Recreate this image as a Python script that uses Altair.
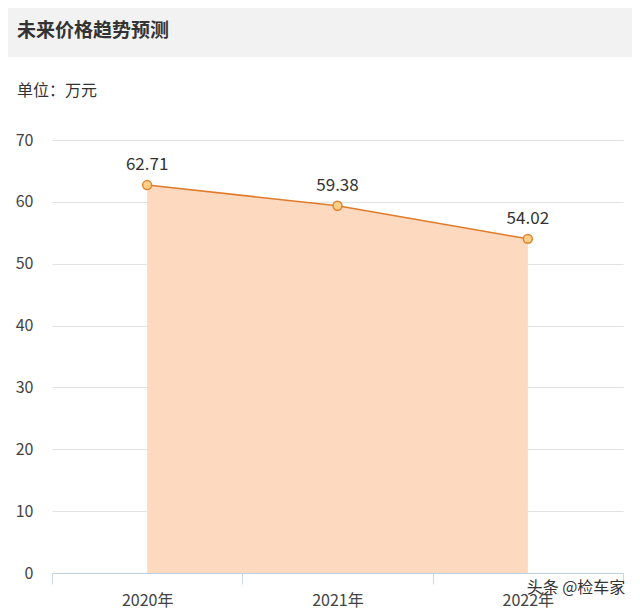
import altair as alt
import pandas as pd

years = ["2020年", "2021年", "2022年"]
prices = [62.71, 59.38, 54.02]
labels = ["62.71", "59.38", "54.02"]
y_ticks = [0, 10, 20, 30, 40, 50, 60, 70]

title_text = "未来价格趋势预测"
unit_text = "单位：万元"
watermark = "头条 @检车家"

FONT = "Noto Sans CJK SC"

df = pd.DataFrame({"year": years, "price": prices, "label": labels})
one = pd.DataFrame({"a": [0]})

x_enc = alt.X("year:N", sort=years,
              scale=alt.Scale(paddingInner=0, paddingOuter=0),
              axis=alt.Axis(title=None, labelAngle=0, domainColor="#bcd0e2",
                            tickColor="#cfd6de", tickBand="extent", tickSize=11,
                            labelPadding=8, labelFontSize=16, labelColor="#444444",
                            labelFont=FONT))
y_enc = alt.Y("price:Q", scale=alt.Scale(domain=[0, 70], nice=False),
              axis=alt.Axis(title=None, values=y_ticks, domain=False, ticks=False,
                            gridColor="#e2e2e6", labelPadding=19, labelFontSize=16,
                            labelColor="#444444", labelFont=FONT))

header = alt.Chart(one).mark_rect(color="#f2f2f3").encode(
    x=alt.value(-60), x2=alt.value(640), y=alt.value(-140), y2=alt.value(-83))
title = alt.Chart(one).mark_text(text=title_text, align="left", baseline="middle",
                                 fontSize=19, fontWeight="bold", font=FONT,
                                 color="#333333").encode(
    x=alt.value(-35), y=alt.value(-109))
unit = alt.Chart(one).mark_text(text=unit_text, align="left", baseline="middle",
                                fontSize=16, font=FONT, color="#333333").encode(
    x=alt.value(-35), y=alt.value(-49))

base = alt.Chart(df)
area = base.mark_area(color="#fdd9bf", opacity=1).encode(x=x_enc, y=y_enc)
line = base.mark_line(color="#e07b29", strokeWidth=1.5).encode(x=x_enc, y=y_enc)
pts = base.mark_point(filled=True, fill="#fcd089", stroke="#df8530", strokeWidth=1.5,
                      size=80, opacity=1).encode(x=x_enc, y=y_enc)
txt = base.mark_text(dy=-20, fontSize=17, font=FONT, color="#333333").encode(
    x=x_enc, y=y_enc, text="label:N")
wm = alt.Chart(one).mark_text(text=watermark, align="center", baseline="middle",
                              fontSize=16, font=FONT, color="#333333").encode(
    x=alt.value(524), y=alt.value(448))

chart = alt.layer(header, title, unit, area, line, pts, txt, wm).properties(
    width=571, height=433,
    autosize=alt.AutoSizeParams(type="none"),
    padding={"left": 44, "top": 132, "right": 9, "bottom": 36},
    background="#ffffff",
).configure_view(stroke=None)

chart.save("out.html", embed_options={"renderer": "svg", "actions": False})
